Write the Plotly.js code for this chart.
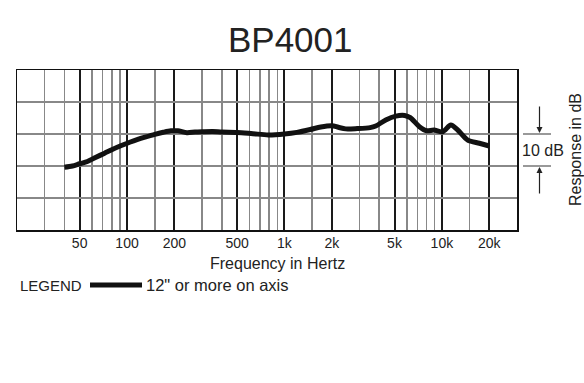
<!DOCTYPE html>
<html>
<head>
<meta charset="utf-8">
<script src="https://cdn.plot.ly/plotly-3.0.1.min.js"></script>
<style>html,body{margin:0;padding:0;background:#fff;}#chart{width:584px;height:383px;}</style>
</head>
<body>
<div id="chart"></div>
<script>
// Frequency response (Hz) and relative response (dB)
const freqHz = [40, 45, 50, 56, 63, 72, 80, 92, 105, 117, 130, 150, 170, 190, 210, 240, 270, 300, 350, 400, 500, 630, 790, 1000, 1200, 1460, 1700, 2000, 2200, 2450, 2900, 3500, 3800, 4400, 5100, 5800, 6300, 7200, 8000, 8900, 10100, 11400, 12600, 14600, 17300, 20000];
const responseDb = [-10.4, -10.0, -9.3, -8.6, -7.35, -6.0, -4.9, -3.6, -2.5, -1.7, -1.0, -0.1, 0.55, 1.0, 1.0, 0.4, 0.6, 0.7, 0.8, 0.6, 0.5, 0.1, -0.3, 0.0, 0.5, 1.4, 2.2, 2.6, 2.1, 1.6, 1.7, 2.0, 2.5, 4.4, 5.6, 5.8, 5.1, 2.3, 1.0, 1.25, 0.7, 2.8, 1.25, -1.9, -2.9, -3.75];

const majorTicks = [50, 100, 200, 500, 1000, 2000, 5000, 10000, 20000];
const majorLabels = ["50", "100", "200", "500", "1k", "2k", "5k", "10k", "20k"];
const minorTicks = [30, 40, 60, 70, 80, 90, 150, 300, 400, 600, 700, 800, 900, 1500, 3000, 4000, 6000, 7000, 8000, 9000, 15000];

const titleText = "BP4001";
const xTitle = "Frequency in Hertz";
const yTitle = "Response in dB";
const seriesName = "12\" or more on axis";
const legendLabel = "LEGEND";
const scaleLabel = "10 dB";

const FONT = "Liberation Sans, Arial, sans-serif";
const TXT = "#222";

const trace = {
  x: freqHz, y: responseDb, type: "scatter", mode: "lines",
  name: seriesName,
  line: {color: "#111", width: 5, shape: "spline", smoothing: 0.8},
  showlegend: false, hoverinfo: "skip"
};

const px = v => (v - 17) / 500;      // pixel x -> paper x
const py = v => (230 - v) / 160;     // pixel y -> paper y

const layout = {
  width: 584, height: 383,
  margin: {l: 17, r: 67, t: 70, b: 153},
  paper_bgcolor: "#fff", plot_bgcolor: "#fff",
  font: {family: FONT, color: TXT},
  title: {text: titleText, font: {size: 35, color: TXT, family: FONT}, x: 0.497, xanchor: "center", y: 1 - 40 / 383, yanchor: "middle", yref: "container"},
  xaxis: {
    type: "log", range: [Math.log10(20), Math.log10(30000)],
    tickvals: majorTicks, ticktext: majorLabels, ticks: "",
    tickfont: {size: 14, color: TXT, family: FONT},
    showgrid: true, gridcolor: "#1a1a1a", gridwidth: 2,
    minor: {tickvals: minorTicks, showgrid: true, gridcolor: "#888888", gridwidth: 1.5, ticks: ""},
    showline: true, mirror: true, linecolor: "#111", linewidth: 1.5,
    zeroline: false, fixedrange: true
  },
  yaxis: {
    range: [-30, 20], tick0: 0, dtick: 10, showticklabels: false, ticks: "",
    showgrid: true, gridcolor: "#888888", gridwidth: 2,
    showline: true, mirror: true, linecolor: "#111", linewidth: 1.5,
    zeroline: false, fixedrange: true
  },
  shapes: [
    {type: "line", xref: "paper", yref: "y", x0: px(523), x1: px(551), y0: 0, y1: 0, line: {color: "#777", width: 1.5}},
    {type: "line", xref: "paper", yref: "y", x0: px(523), x1: px(551), y0: -10, y1: -10, line: {color: "#777", width: 1.5}},
    {type: "line", xref: "paper", yref: "paper", x0: px(90), x1: px(142), y0: py(285), y1: py(285), line: {color: "#111", width: 5}}
  ],
  annotations: [
    {xref: "paper", yref: "y", x: px(539.5), y: 0, text: "", showarrow: true, arrowhead: 2, arrowsize: 1, arrowwidth: 1.2, arrowcolor: "#222", ax: 0, ay: -29, standoff: 1},
    {xref: "paper", yref: "y", x: px(539.5), y: -10, text: "", showarrow: true, arrowhead: 2, arrowsize: 1, arrowwidth: 1.2, arrowcolor: "#222", ax: 0, ay: 29, standoff: 1},
    {xref: "paper", yref: "y", x: px(543), y: -5, text: scaleLabel, showarrow: false, font: {size: 16, color: TXT, family: FONT}, xanchor: "center", yanchor: "middle"},
    {xref: "paper", yref: "y", x: px(575), y: -5, text: yTitle, textangle: -90, showarrow: false, font: {size: 16, color: TXT, family: FONT}, xanchor: "center", yanchor: "middle"},
    {xref: "paper", yref: "paper", x: px(277), y: py(263), text: xTitle, showarrow: false, font: {size: 16, color: TXT, family: FONT}, xanchor: "center", yanchor: "middle"},
    {xref: "paper", yref: "paper", x: px(18), y: py(285), text: legendLabel, showarrow: false, font: {size: 15, color: TXT, family: FONT}, xanchor: "left", yanchor: "middle"},
    {xref: "paper", yref: "paper", x: px(144), y: py(285), text: seriesName, showarrow: false, font: {size: 16.5, color: TXT, family: FONT}, xanchor: "left", yanchor: "middle"}
  ]
};

Plotly.newPlot("chart", [trace], layout, {displayModeBar: false, staticPlot: true});
</script>
</body>
</html>
